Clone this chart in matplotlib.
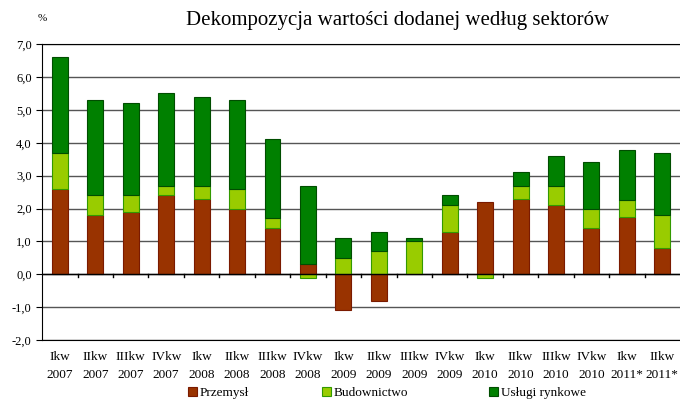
import numpy as np
import matplotlib.pyplot as plt

quarters = ["Ikw\n2007", "IIkw\n2007", "IIIkw\n2007", "IVkw\n2007",
            "Ikw\n2008", "IIkw\n2008", "IIIkw\n2008", "IVkw\n2008",
            "Ikw\n2009", "IIkw\n2009", "IIIkw\n2009", "IVkw\n2009",
            "Ikw\n2010", "IIkw\n2010", "IIIkw\n2010", "IVkw\n2010",
            "Ikw\n2011*", "IIkw\n2011*"]
przemysl = [2.6, 1.8, 1.9, 2.4, 2.3, 2.0, 1.4, 0.3, -1.1, -0.8, 0.0, 1.3,
            2.2, 2.3, 2.1, 1.4, 1.75, 0.8]
budownictwo = [1.1, 0.6, 0.5, 0.3, 0.4, 0.6, 0.3, -0.1, 0.5, 0.7, 1.0, 0.8,
               -0.1, 0.4, 0.6, 0.6, 0.5, 1.0]
uslugi = [2.9, 2.9, 2.8, 2.8, 2.7, 2.7, 2.4, 2.4, 0.6, 0.6, 0.1, 0.3,
          0.0, 0.4, 0.9, 1.4, 1.53, 1.9]

series = [("Przemysł", przemysl, "#993300", "#7a1a00"),
          ("Budownictwo", budownictwo, "#99cc00", "#339900"),
          ("Usługi rynkowe", uslugi, "#008000", "#004d00")]

plt.rcParams['font.family'] = ['Liberation Serif', 'DejaVu Serif']

fig = plt.figure(figsize=(6.8, 4.01), dpi=100)
ax = fig.add_axes([0.062, 0.152, 0.938, 0.738])

x = np.arange(len(quarters))
pos_bottom = np.zeros(len(quarters))
neg_bottom = np.zeros(len(quarters))
handles = []
for name, vals, col, edge in series:
    vals = np.array(vals, dtype=float)
    bottoms = np.where(vals >= 0, pos_bottom, neg_bottom)
    lws = np.where(vals == 0, 0, 0.8)  # no outline on empty segments
    b = ax.bar(x, vals, 0.45, bottom=bottoms, color=col, edgecolor=edge,
               linewidth=lws, label=name, zorder=3)
    handles.append(b)
    pos_bottom += np.where(vals >= 0, vals, 0)
    neg_bottom += np.where(vals < 0, vals, 0)

ax.set_xlim(-0.5, len(quarters) - 0.5)
ax.set_ylim(-2, 7)
ax.set_yticks(np.arange(-2, 8, 1))
ax.set_yticklabels([f"{v:.1f}".replace(".", ",") for v in np.arange(-2, 8, 1)],
                   fontsize=9)
ax.yaxis.grid(True, color="#555555", linewidth=1, zorder=0)
ax.set_axisbelow(True)

ax.set_xticks(x)
ax.set_xticklabels(quarters, fontsize=9.5, linespacing=1.6)
ax.tick_params(axis="x", length=0, pad=8)
ax.tick_params(axis="y", length=4, color="black")

# zero line with category separators
ax.axhline(0, color="black", linewidth=1, zorder=4)
for b in np.arange(0.5, len(quarters) - 0.5, 1):
    ax.plot([b, b], [0, -0.08], color="black", linewidth=1, zorder=4)

ax.spines["right"].set_visible(False)

fig.text(0.584, 0.948, "Dekompozycja wartości dodanej według sektorów",
         ha="center", va="center", fontsize=15)
fig.text(0.062, 0.955, "%", ha="center", va="center", fontsize=8)

# legend entries placed one by one
leg_x = [0.276, 0.473, 0.719]
for h, lx in zip(handles, leg_x):
    fig.legend(handles=[h], loc="center left", bbox_to_anchor=(lx, 0.02),
               frameon=False, fontsize=9.5, handlelength=0.7,
               handleheight=0.7, handletextpad=0.2, borderpad=0,
               borderaxespad=0)

fig.savefig("out.png", dpi=100)
